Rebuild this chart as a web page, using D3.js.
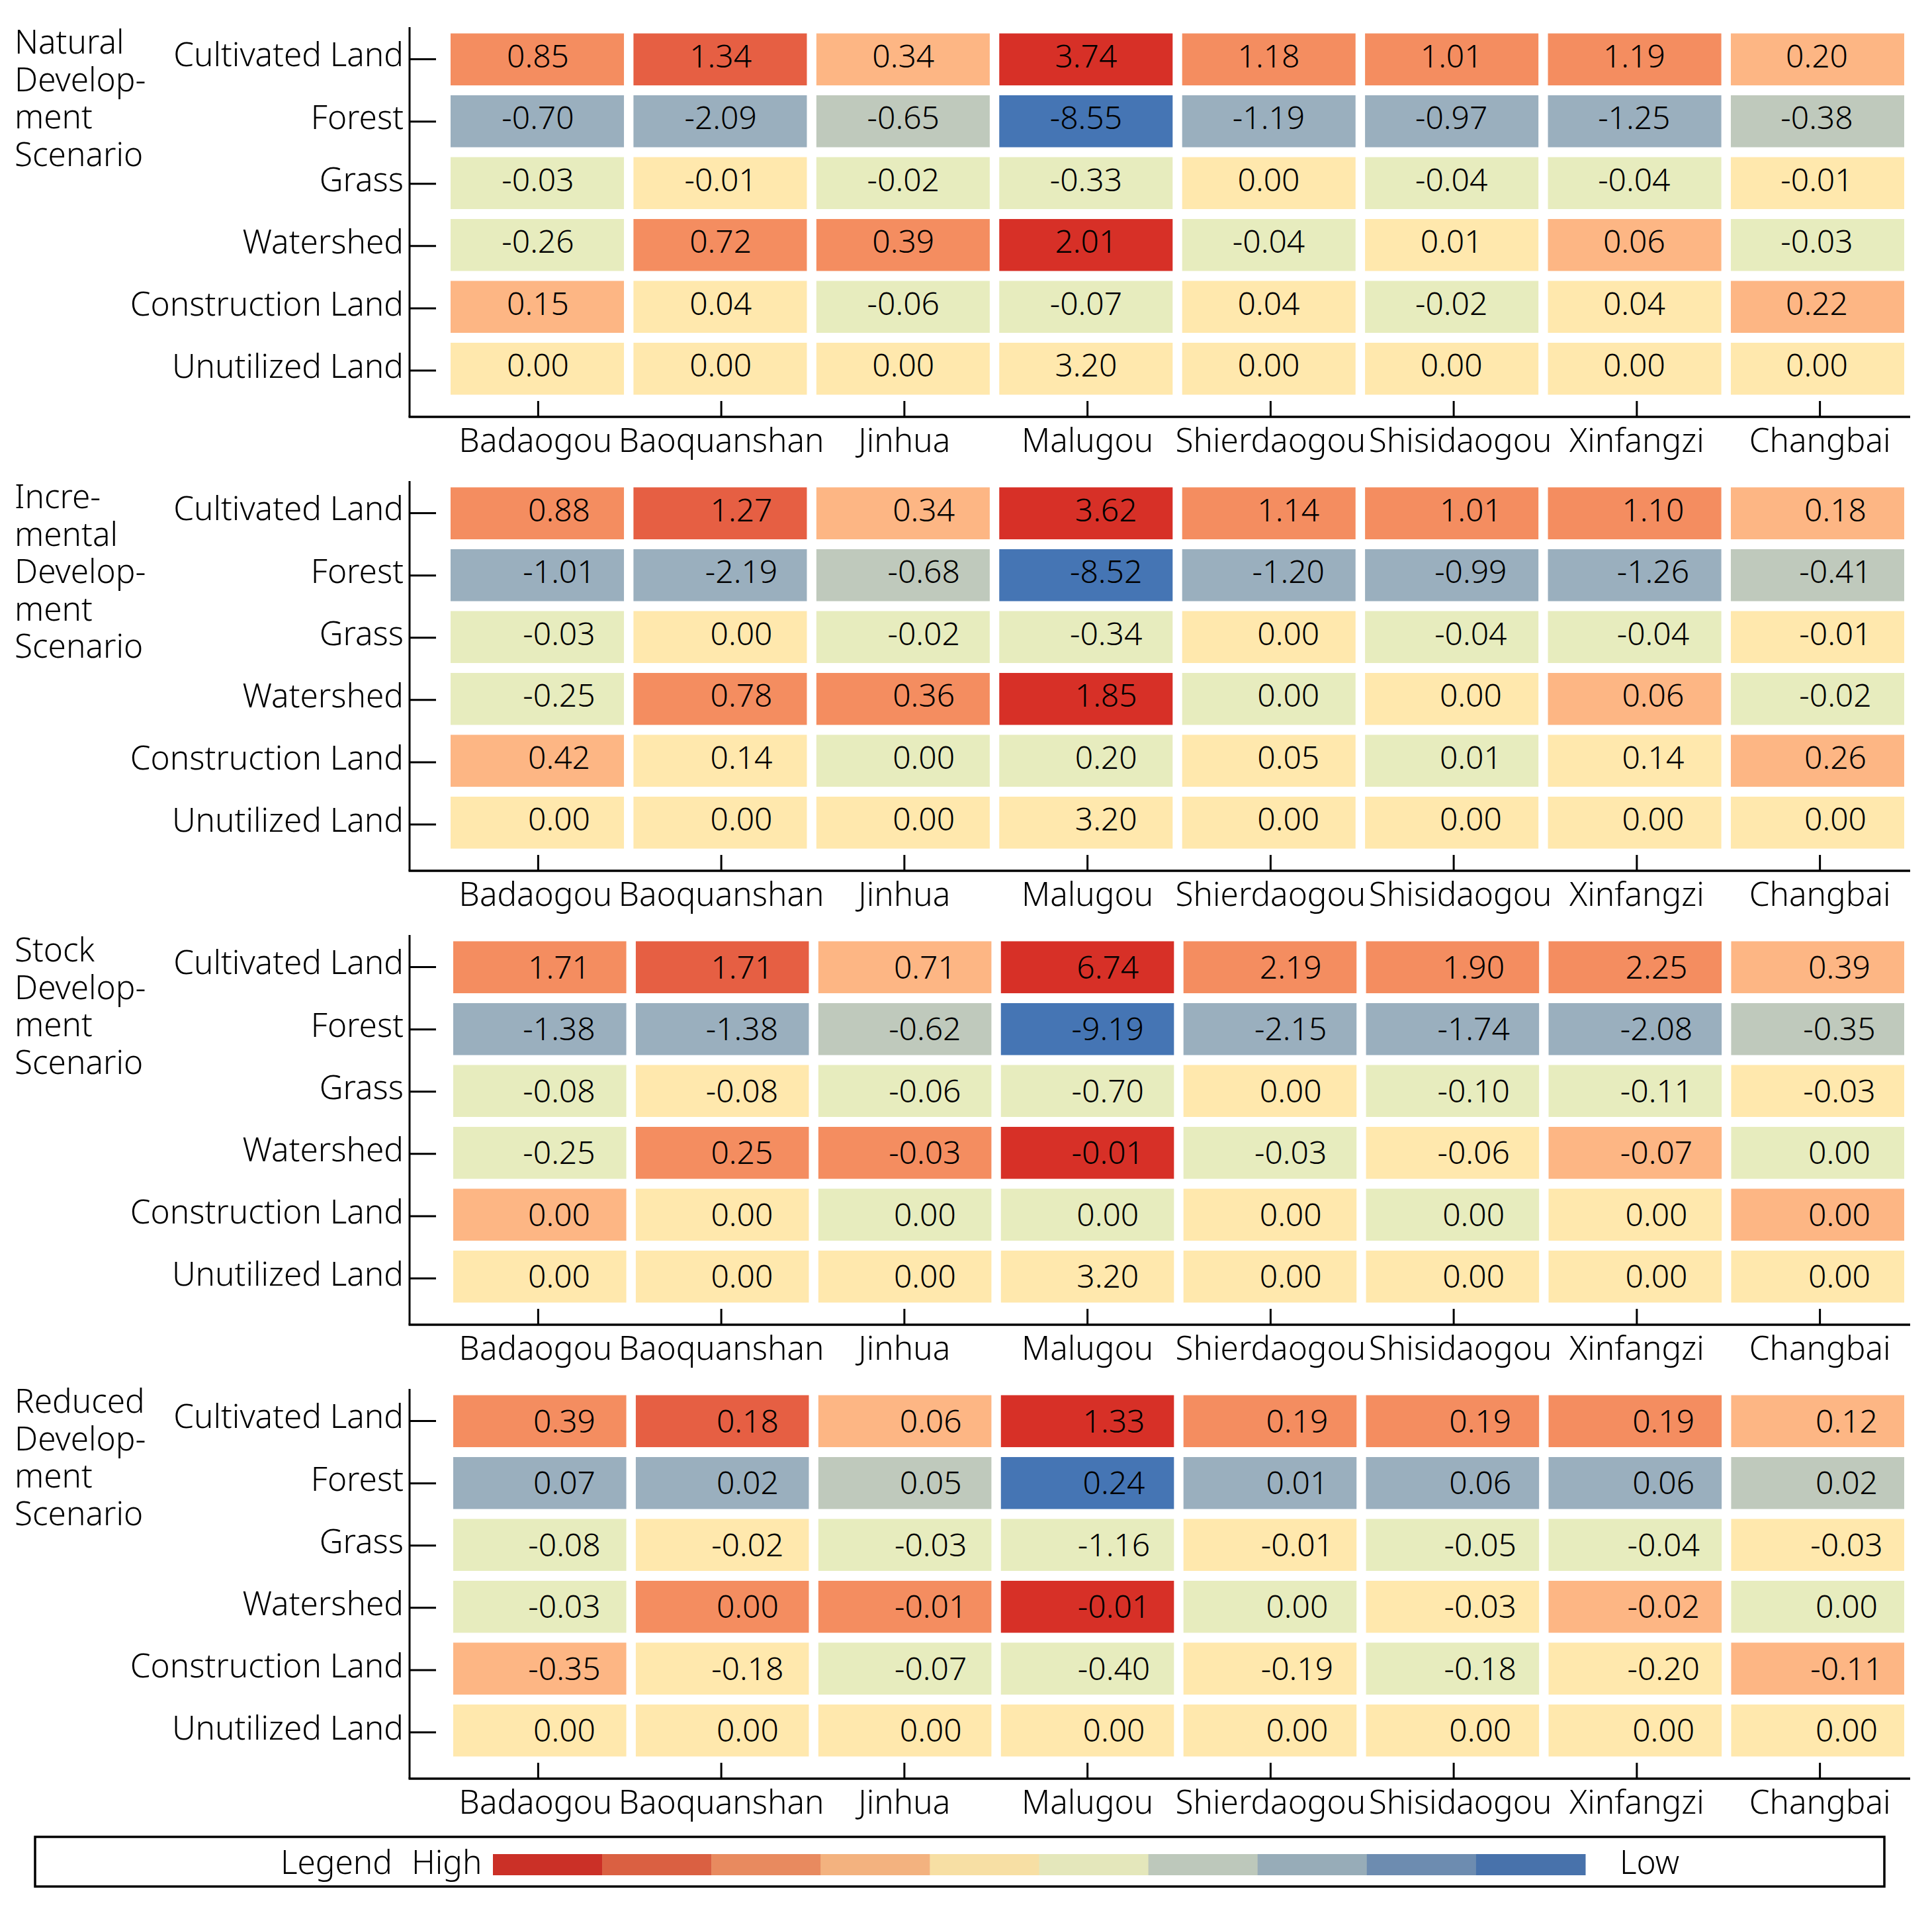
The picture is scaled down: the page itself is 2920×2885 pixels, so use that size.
<!DOCTYPE html>
<html>
<head>
<meta charset="utf-8">
<script src="https://cdn.jsdelivr.net/npm/d3@7"></script>
<style>
html, body { margin: 0; padding: 0; background: #fff; }
text { font-family: "Noto Sans", sans-serif; font-weight: 300; fill: #000; }
</style>
</head>
<body>
<div id="graph_container"></div>
<script>
var landTypes = ["Cultivated Land", "Forest", "Grass", "Watershed", "Construction Land", "Unutilized Land"];
var towns = ["Badaogou", "Baoquanshan", "Jinhua", "Malugou", "Shierdaogou", "Shisidaogou", "Xinfangzi", "Changbai"];

var naturalTitle = ["Natural", "Develop-", "ment", "Scenario"];
var incrementalTitle = ["Incre-", "mental", "Develop-", "ment", "Scenario"];
var stockTitle = ["Stock", "Develop-", "ment", "Scenario"];
var reducedTitle = ["Reduced", "Develop-", "ment", "Scenario"];

var naturalValues = [
    [0.85, 1.34, 0.34, 3.74, 1.18, 1.01, 1.19, 0.20],
    [-0.70, -2.09, -0.65, -8.55, -1.19, -0.97, -1.25, -0.38],
    [-0.03, -0.01, -0.02, -0.33, 0.00, -0.04, -0.04, -0.01],
    [-0.26, 0.72, 0.39, 2.01, -0.04, 0.01, 0.06, -0.03],
    [0.15, 0.04, -0.06, -0.07, 0.04, -0.02, 0.04, 0.22],
    [0.00, 0.00, 0.00, 3.20, 0.00, 0.00, 0.00, 0.00]
];
var incrementalValues = [
    [0.88, 1.27, 0.34, 3.62, 1.14, 1.01, 1.10, 0.18],
    [-1.01, -2.19, -0.68, -8.52, -1.20, -0.99, -1.26, -0.41],
    [-0.03, 0.00, -0.02, -0.34, 0.00, -0.04, -0.04, -0.01],
    [-0.25, 0.78, 0.36, 1.85, 0.00, 0.00, 0.06, -0.02],
    [0.42, 0.14, 0.00, 0.20, 0.05, 0.01, 0.14, 0.26],
    [0.00, 0.00, 0.00, 3.20, 0.00, 0.00, 0.00, 0.00]
];
var stockValues = [
    [1.71, 1.71, 0.71, 6.74, 2.19, 1.90, 2.25, 0.39],
    [-1.38, -1.38, -0.62, -9.19, -2.15, -1.74, -2.08, -0.35],
    [-0.08, -0.08, -0.06, -0.70, 0.00, -0.10, -0.11, -0.03],
    [-0.25, 0.25, -0.03, -0.01, -0.03, -0.06, -0.07, 0.00],
    [0.00, 0.00, 0.00, 0.00, 0.00, 0.00, 0.00, 0.00],
    [0.00, 0.00, 0.00, 3.20, 0.00, 0.00, 0.00, 0.00]
];
var reducedValues = [
    [0.39, 0.18, 0.06, 1.33, 0.19, 0.19, 0.19, 0.12],
    [0.07, 0.02, 0.05, 0.24, 0.01, 0.06, 0.06, 0.02],
    [-0.08, -0.02, -0.03, -1.16, -0.01, -0.05, -0.04, -0.03],
    [-0.03, 0.00, -0.01, -0.01, 0.00, -0.03, -0.02, 0.00],
    [-0.35, -0.18, -0.07, -0.40, -0.19, -0.18, -0.20, -0.11],
    [0.00, 0.00, 0.00, 0.00, 0.00, 0.00, 0.00, 0.00]
];

// colour class of each cell, 0 = high ... 9 = low (the same in all four panels)
var colorClasses = [
    [2, 1, 3, 0, 2, 2, 2, 3],
    [7, 7, 6, 9, 7, 7, 7, 6],
    [5, 4, 5, 5, 4, 5, 5, 4],
    [5, 2, 2, 0, 5, 4, 3, 5],
    [3, 4, 5, 5, 4, 5, 4, 3],
    [4, 4, 4, 4, 4, 4, 4, 4]
];
var classIds = [0, 1, 2, 3, 4, 5, 6, 7, 8, 9];
var cellColors = ["#d73027", "#e65f43", "#f48d60", "#fdb684", "#ffe8ad", "#e7ecbe", "#bfc9bc", "#9aafbe", "#6f90b8", "#4575b4"];
var legendColors = ["#cb3027", "#da6042", "#e88a5f", "#f3b27f", "#f7dfa4", "#e4e7bb", "#bdc8bb", "#97acb8", "#6d8cb0", "#4872ab"];

var panels = [
    {title: naturalTitle, values: naturalValues, cellRange: [681, 2878], labelRange: [813, 2746], labelDy: 12, titleY: 81},
    {title: incrementalTitle, values: incrementalValues, cellRange: [681, 2878], labelRange: [845, 2774], labelDy: 12, titleY: 82},
    {title: stockTitle, values: stockValues, cellRange: [685, 2878], labelRange: [845, 2780], labelDy: 17, titleY: 81},
    {title: reducedTitle, values: reducedValues, cellRange: [685, 2878], labelRange: [853, 2791], labelDy: 17, titleY: 77}
];

var width = 2920, height = 2885;
var panelStep = 686;
var axisLeft = 619, axisRight = 2887, axisTop = 41, axisBottom = 630;
var axisFont = 49.5, valueFont = 48;

var svg = d3.select("#graph_container").append("svg")
    .attr("width", width)
    .attr("height", height);

var cellColor = d3.scaleOrdinal().domain(classIds).range(cellColors);
var legendColor = d3.scaleOrdinal().domain(classIds).range(legendColors);

panels.forEach(function(panel, i) {
    buildPanel(panel, i);
});
buildLegend();

function buildPanel(panel, index) {
    var g = svg.append("g")
        .attr("transform", "translate(0," + (index * panelStep) + ")");

    // the cells sit on their own grid, slightly off the axis ticks
    var cellX = d3.scaleBand().domain(towns).range(panel.cellRange).paddingInner(0.052);
    var cellY = d3.scaleBand().domain(landTypes).range([50.5, 596.5]).paddingInner(0.16);
    var labelX = d3.scalePoint().domain(towns).range(panel.labelRange);

    var tickX = d3.scaleBand().domain(towns).range([675, 2889]);
    var tickY = d3.scaleBand().domain(landTypes).range([42.5, 607]);

    var yAxis = g.append("g")
        .attr("transform", "translate(" + axisLeft + ",0)")
        .call(d3.axisLeft(tickY).tickSize(-40).tickSizeOuter(0).tickPadding(9));
    yAxis.select(".domain").remove();
    yAxis.append("line")
        .attr("y1", axisTop)
        .attr("y2", axisBottom)
        .attr("stroke", "#000")
        .attr("stroke-width", 3);
    yAxis.selectAll(".tick line").attr("stroke", "#000").attr("stroke-width", 3);
    yAxis.selectAll(".tick text")
        .attr("dy", "0.22em")
        .style("font-size", axisFont + "px");

    var xAxis = g.append("g")
        .attr("transform", "translate(0," + axisBottom + ")")
        .call(d3.axisBottom(tickX).tickSize(-24).tickSizeOuter(0).tickPadding(0));
    xAxis.select(".domain").remove();
    xAxis.append("line")
        .attr("x1", axisLeft - 1.5)
        .attr("x2", axisRight)
        .attr("stroke", "#000")
        .attr("stroke-width", 3.5);
    xAxis.selectAll(".tick line").attr("stroke", "#000").attr("stroke-width", 3);
    xAxis.selectAll(".tick text")
        .attr("y", 53)
        .attr("dy", 0)
        .attr("dx", function(d) { return d == "Shisidaogou" ? 10 : (d == "Badaogou" ? -4 : 0); })
        .style("font-size", axisFont + "px");

    var rows = g.selectAll(".row")
        .data(panel.values)
        .enter().append("g")
            .attr("class", "row");

    rows.selectAll("rect")
        .data(function(row, r) { return row.map(function(v, c) { return {r: r, c: c, v: v}; }); })
        .enter().append("rect")
            .attr("x", function(d) { return cellX(towns[d.c]); })
            .attr("y", function(d) { return cellY(landTypes[d.r]); })
            .attr("width", cellX.bandwidth())
            .attr("height", cellY.bandwidth())
            .attr("fill", function(d) { return cellColor(colorClasses[d.r][d.c]); });

    rows.selectAll("text")
        .data(function(row, r) { return row.map(function(v, c) { return {r: r, c: c, v: v}; }); })
        .enter().append("text")
            .attr("x", function(d) { return labelX(towns[d.c]); })
            .attr("y", function(d) { return cellY(landTypes[d.r]) + cellY.bandwidth() / 2 + panel.labelDy; })
            .attr("text-anchor", "middle")
            .style("font-size", valueFont + "px")
            .text(function(d) { return d.v.toFixed(2); });

    g.append("text")
        .attr("x", 22)
        .attr("y", panel.titleY)
        .style("font-size", axisFont + "px")
        .selectAll("tspan")
        .data(panel.title)
        .enter().append("tspan")
            .attr("x", 22)
            .attr("dy", function(d, i) { return i == 0 ? 0 : 56.5; })
            .text(function(d) { return d; });
}

function buildLegend() {
    var legend = svg.append("g");

    legend.append("rect")
        .attr("x", 53)
        .attr("y", 2776)
        .attr("width", 2795)
        .attr("height", 75)
        .attr("fill", "none")
        .attr("stroke", "#000")
        .attr("stroke-width", 3.5);

    var legendX = d3.scaleBand().domain(classIds).range([745, 2396]);

    legend.selectAll("rect.swatch")
        .data(classIds)
        .enter().append("rect")
            .attr("class", "swatch")
            .attr("x", function(d) { return legendX(d); })
            .attr("y", 2802)
            .attr("width", legendX.bandwidth() + 0.5)
            .attr("height", 32)
            .attr("fill", function(d) { return legendColor(d); });

    legend.selectAll("text")
        .data([{t: "Legend", x: 424}, {t: "High", x: 622}, {t: "Low", x: 2448}])
        .enter().append("text")
            .attr("x", function(d) { return d.x; })
            .attr("y", 2832)
            .style("font-size", axisFont + "px")
            .text(function(d) { return d.t; });
}
</script>
</body>
</html>
